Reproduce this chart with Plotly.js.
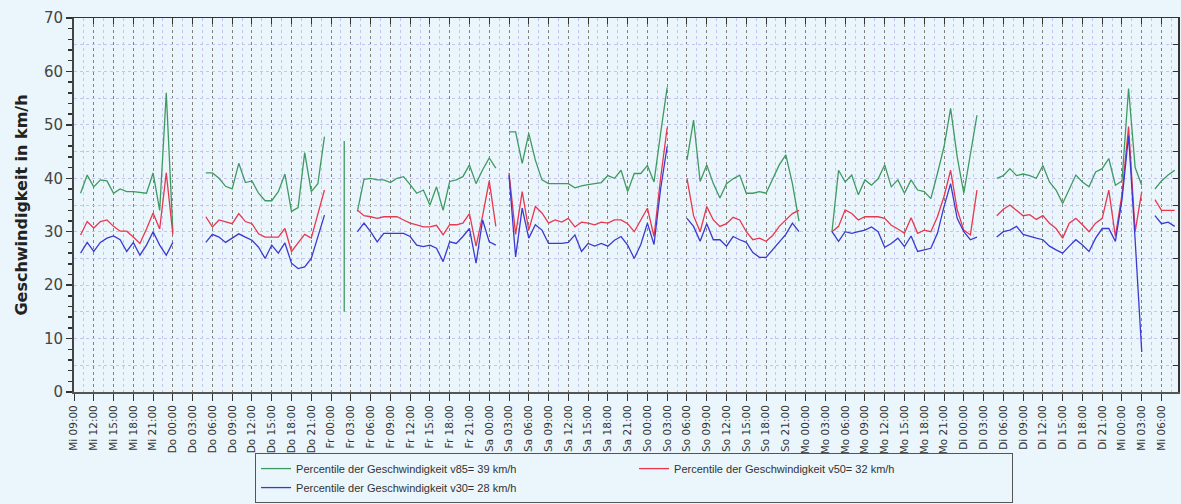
<!DOCTYPE html>
<html>
<head>
<meta charset="utf-8">
<script src="https://cdn.plot.ly/plotly-3.0.1.min.js"></script>
<style>
  html, body { margin: 0; padding: 0; background: #eaf6fb; }
  #chart { width: 1181px; height: 504px; }
</style>
</head>
<body>
<div id="chart"></div>
<script>
// Hours counted from "Mi 09:00"
const tickLabels = [
  "Mi 09:00","Mi 12:00","Mi 15:00","Mi 18:00","Mi 21:00",
  "Do 00:00","Do 03:00","Do 06:00","Do 09:00","Do 12:00","Do 15:00","Do 18:00","Do 21:00",
  "Fr 00:00","Fr 03:00","Fr 06:00","Fr 09:00","Fr 12:00","Fr 15:00","Fr 18:00","Fr 21:00",
  "Sa 00:00","Sa 03:00","Sa 06:00","Sa 09:00","Sa 12:00","Sa 15:00","Sa 18:00","Sa 21:00",
  "So 00:00","So 03:00","So 06:00","So 09:00","So 12:00","So 15:00","So 18:00","So 21:00",
  "Mo 00:00","Mo 03:00","Mo 06:00","Mo 09:00","Mo 12:00","Mo 15:00","Mo 18:00","Mo 21:00",
  "Di 00:00","Di 03:00","Di 06:00","Di 09:00","Di 12:00","Di 15:00","Di 18:00","Di 21:00",
  "Mi 00:00","Mi 03:00","Mi 06:00"
];

// start hour of each measured segment (gaps between them)
const segmentStart = [1, 20, 43, 66, 93, 115, 140, 164];

const v85 = [
  [37.2, 40.6, 38.4, 39.7, 39.5, 37.2, 38, 37.5, 37.5, 37.3, 37.2, 41, 34, 56, 30],
  [41, 41, 40, 38.5, 38, 42.8, 39.2, 39.5, 37.2, 35.8, 35.8, 37.5, 40.8, 33.8, 34.5, 44.8, 37.5, 39, 47.8],
  [33.8, 39.8, 40, 39.7, 39.7, 39.2, 40, 40.3, 38.8, 37.2, 37.8, 35, 38.4, 34, 39.4, 39.7, 40.3, 42.5, 39, 41.6, 43.8, 41.9],
  [48.7, 48.7, 42.8, 48.4, 43.4, 39.7, 39, 39, 39, 39, 38.2, 38.6, 38.8, 39, 39.2, 40.5, 40, 41.5, 37.5, 40.9, 40.9, 42.4, 39.3, 48.4, 57],
  [43.4, 50.9, 39.4, 42.5, 39, 36.3, 39, 39.9, 40.6, 37.2, 37.2, 37.5, 37.2, 39.7, 42.5, 44.4, 39, 32],
  [30, 41.5, 39.3, 40.6, 36.9, 39.7, 38.7, 39.9, 42.5, 38.4, 39.7, 37.2, 39.7, 37.8, 37.5, 36.2, 40.9, 45.9, 53.1, 44, 37.2, 44.6, 51.8],
  [40, 40.5, 41.8, 40.5, 40.8, 40.5, 40, 42.4, 39.3, 37.8, 35.3, 38, 40.6, 39.3, 38.4, 41.2, 41.8, 43.7, 38.7, 39.5, 56.8, 42, 38.7],
  [38, 39.5, 40.6, 41.5]
];

const v50 = [
  [29.4, 31.9, 30.7, 31.9, 32.2, 31, 30.1, 30.1, 29, 27.8, 30.5, 33.5, 30.5, 41, 29.5],
  [32.8, 30.9, 32.2, 31.9, 31.5, 33.4, 31.9, 31.5, 29.6, 29, 29, 29, 30.6, 26.3, 27.9, 29.5, 28.8, 33.4, 37.8],
  [34, 33, 32.8, 32.5, 32.8, 32.8, 32.8, 32.2, 31.6, 31.3, 30.9, 30.9, 31.2, 29.4, 31.3, 31.3, 31.6, 33.4, 27.3, 33, 39.5, 31],
  [41, 29.5, 37.5, 30.3, 34.7, 33.5, 31.6, 32.2, 31.8, 32.5, 30.9, 31.8, 31.6, 31.3, 31.8, 31.6, 32.2, 32.2, 31.5, 30, 32.2, 34.4, 29.1, 40, 49.5],
  [40, 33, 30, 34.7, 32.2, 31, 31.5, 32.7, 32.2, 30, 28.5, 28.8, 28.2, 29.3, 31, 32.2, 33.4, 34],
  [30, 31, 34.1, 33.4, 32.2, 32.8, 32.8, 32.8, 32.5, 31.2, 30.5, 29.7, 32.6, 29.7, 30.3, 30, 32.8, 36.6, 41.5, 34.1, 30.3, 29.4, 37.8],
  [33, 34.2, 35, 34, 33, 33.2, 32.3, 33, 31.6, 30.6, 28.8, 31.6, 32.5, 31.3, 30, 31.6, 32.5, 37.8, 29.1, 37, 49.7, 30, 37.5],
  [36, 34, 34, 34]
];

const v30 = [
  [26, 28, 26.3, 28, 28.8, 29.2, 28.5, 26.3, 28, 25.6, 27.5, 30, 27.5, 25.6, 28],
  [28, 29.5, 29, 28, 28.8, 29.6, 29, 28.4, 27.1, 25, 27.5, 26, 27.9, 24.1, 23.1, 23.4, 25, 29, 33.1],
  [30, 31.6, 30, 28.1, 29.7, 29.7, 29.7, 29.7, 29.1, 27.5, 27.2, 27.5, 26.9, 24.4, 28.1, 27.8, 29.1, 30.6, 24.1, 32.2, 28.1, 27.5],
  [40.6, 25.3, 34.4, 28.8, 31.3, 30.3, 27.8, 27.8, 27.8, 28, 29.4, 26.3, 27.8, 27.3, 27.8, 27.3, 28.4, 29.1, 27.5, 25, 27.6, 31.6, 27.6, 38, 46],
  [32.5, 31, 28.2, 31.5, 28.5, 28.5, 27.3, 29.1, 28.5, 28, 26.1, 25.2, 25.2, 26.7, 28.2, 29.5, 31.6, 30],
  [30, 28.2, 30, 29.7, 30, 30.3, 30.9, 30, 27.1, 27.8, 28.8, 27.2, 29.2, 26.3, 26.6, 26.9, 29.7, 34.7, 39, 32.5, 30, 28.5, 29],
  [29, 30, 30.3, 31, 29.5, 29.1, 28.8, 28.5, 27.3, 26.6, 26, 27.3, 28.5, 27.5, 26.3, 28.8, 30.6, 30.6, 28.2, 36, 48, 28.4, 7.5],
  [33, 31.5, 31.8, 31]
];

// isolated near-vertical v85 stroke on Friday night
const frSpikeHours = [41, 41];
const frSpikeV85 = [47, 15];

const seriesNames = [
  "Percentile der Geschwindigkeit v85= 39 km/h",
  "Percentile der Geschwindigkeit v50= 32 km/h",
  "Percentile der Geschwindigkeit v30= 28 km/h"
];
const seriesColors = ["#3f9a62", "#e8374f", "#3a3ad0"];

function buildXY(segments) {
  const x = [], y = [];
  segments.forEach((seg, i) => {
    seg.forEach((v, j) => { x.push(segmentStart[i] + j); y.push(v); });
    x.push(segmentStart[i] + seg.length); y.push(null);
  });
  return {x, y};
}

const tickHours = tickLabels.map((_, i) => i * 3);
const traces = [v85, v50, v30].map((s, k) => {
  const d = buildXY(s);
  return {
    type: "scatter", mode: "lines", x: d.x, y: d.y,
    name: seriesNames[k], connectgaps: false,
    line: {color: seriesColors[k], width: 1.3}
  };
});
traces.push({
  type: "scatter", mode: "lines", x: frSpikeHours, y: frSpikeV85,
  xaxis: "x2", yaxis: "y2", showlegend: false, hoverinfo: "skip",
  line: {color: seriesColors[0], width: 1.3}
});

const xr = [0, 167.5];
const layout = {
  width: 1181, height: 504,
  margin: {l: 74, r: 3, t: 18, b: 112, autoexpand: false},
  paper_bgcolor: "#eaf6fb", plot_bgcolor: "#eaf6fb",
  font: {family: "Liberation Sans, Arial, sans-serif", color: "#333"},
  showlegend: true,
  xaxis: {
    range: xr, tickmode: "array", tickvals: tickHours, ticktext: tickLabels,
    tickangle: -90, tickfont: {family: "DejaVu Sans, sans-serif", size: 10.5, color: "#333"},
    ticks: "outside", ticklen: 7, tickcolor: "#333", tickwidth: 1,
    showline: true, linecolor: "#555", linewidth: 2,
    showgrid: true, gridcolor: "#808080", griddash: "dot", gridwidth: 1,
    zeroline: false, automargin: false,
    minor: {tickmode: "linear", tick0: 1.5, dtick: 3, showgrid: true,
            gridcolor: "#c4c4ec", griddash: "dot", ticks: ""}
  },
  yaxis: {
    range: [0, 70], tickmode: "linear", tick0: 0, dtick: 10,
    tickfont: {family: "DejaVu Sans, sans-serif", size: 15, color: "#444"},
    ticks: "outside", ticklen: 6, tickcolor: "#333", tickwidth: 1.5,
    showline: true, linecolor: "#444", linewidth: 2,
    showgrid: true, gridcolor: "#808080", griddash: "dot", gridwidth: 1,
    zeroline: false, automargin: false,
    minor: {dtick: 2, ticks: "outside", ticklen: 4, tickcolor: "#333", showgrid: false},
    title: {text: "<b>Geschwindigkeit in km/h</b>",
            font: {family: "DejaVu Sans, sans-serif", size: 16, color: "#222"}, standoff: 12}
  },
  xaxis2: {
    range: xr, overlaying: "x", side: "top", anchor: "y2",
    tickmode: "array", tickvals: tickHours, showticklabels: false,
    ticks: "inside", ticklen: 6, tickcolor: "#333",
    showline: true, linecolor: "#333", linewidth: 1.5, showgrid: false, zeroline: false
  },
  yaxis2: {
    range: [0, 70], overlaying: "y", side: "right", anchor: "x2",
    tickmode: "linear", tick0: 0, dtick: 5, showticklabels: false,
    ticks: "inside", ticklen: 5, tickcolor: "#333",
    showline: true, linecolor: "#333", linewidth: 1.5,
    showgrid: true, gridcolor: "#c4c4ec", griddash: "dot", zeroline: false
  },
  legend: {
    orientation: "h", x: 0.164, xanchor: "left", y: -0.297, yanchor: "bottom",
    bgcolor: "#eaf6fb", bordercolor: "#555", borderwidth: 1,
    font: {size: 11, color: "#333"}, entrywidth: 333, entrywidthmode: "pixels",
    traceorder: "normal", tracegroupgap: 0
  }
};

Plotly.newPlot("chart", traces, layout, {displayModeBar: false, staticPlot: true});
</script>
</body>
</html>
